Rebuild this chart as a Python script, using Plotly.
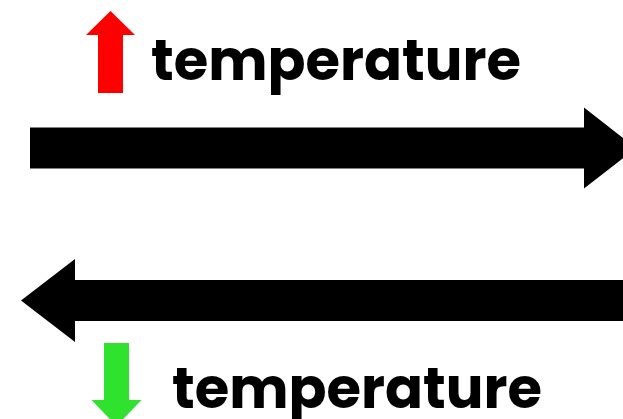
import plotly.graph_objects as go

# canvas size in pixels (axes map 1:1 to pixels, y downward)
W, H = 623, 419

# arrows: name, tail (x, y), tip (x, y), shaft width, head width, head length, colour
arrow_names = ['up', 'right', 'left', 'down']
arrow_tails = [(110.5, 93), (30, 148), (660, 300.5), (116.5, 343)]
arrow_tips = [(110.5, 11), (636, 148), (21, 300.5), (116.5, 426)]
shaft_widths = [25, 41, 41, 25]
head_widths = [49, 81, 83, 50]
head_lengths = [24, 52, 54, 26]
arrow_colors = ['#ff0000', '#000000', '#000000', '#2ee22e']

# labels
label_texts = ['temperature', 'temperature']
label_left = [149, 170]
label_mid = [60, 388]


def arrow_polygon(tail, tip, sw, hw, hl):
    """Outline of a block arrow from tail to tip."""
    dx, dy = tip[0] - tail[0], tip[1] - tail[1]
    n = (dx ** 2 + dy ** 2) ** 0.5
    ux, uy = dx / n, dy / n
    px, py = -uy, ux
    bx, by = tip[0] - ux * hl, tip[1] - uy * hl
    pts = [
        (tail[0] + px * sw / 2, tail[1] + py * sw / 2),
        (bx + px * sw / 2, by + py * sw / 2),
        (bx + px * hw / 2, by + py * hw / 2),
        tip,
        (bx - px * hw / 2, by - py * hw / 2),
        (bx - px * sw / 2, by - py * sw / 2),
        (tail[0] - px * sw / 2, tail[1] - py * sw / 2),
    ]
    xs = [p[0] for p in pts] + [pts[0][0]]
    ys = [p[1] for p in pts] + [pts[0][1]]
    return xs, ys


fig = go.Figure()
for i, name in enumerate(arrow_names):
    xs, ys = arrow_polygon(arrow_tails[i], arrow_tips[i], shaft_widths[i], head_widths[i], head_lengths[i])
    fig.add_trace(go.Scatter(x=xs, y=ys, mode='lines', fill='toself', fillcolor=arrow_colors[i],
                             line=dict(width=0, color=arrow_colors[i]), hoverinfo='skip', name=name))

for t, x, y in zip(label_texts, label_left, label_mid):
    fig.add_annotation(x=x, y=y, text=t, showarrow=False, xanchor='left', yanchor='middle',
                       font=dict(family='Poppins, Inter, sans-serif', size=56, color='black', weight=700))

fig.update_xaxes(range=[0, W], visible=False, fixedrange=True)
fig.update_yaxes(range=[H, 0], visible=False, fixedrange=True)
fig.update_layout(width=W, height=H, margin=dict(l=0, r=0, t=0, b=0), showlegend=False,
                  plot_bgcolor='white', paper_bgcolor='white')

# drop the browser's default body margin so the figure fills the window
fig.write_html("out.html", config={'displayModeBar': False},
               post_script="document.body.style.margin='0';document.body.style.overflow='hidden';")
